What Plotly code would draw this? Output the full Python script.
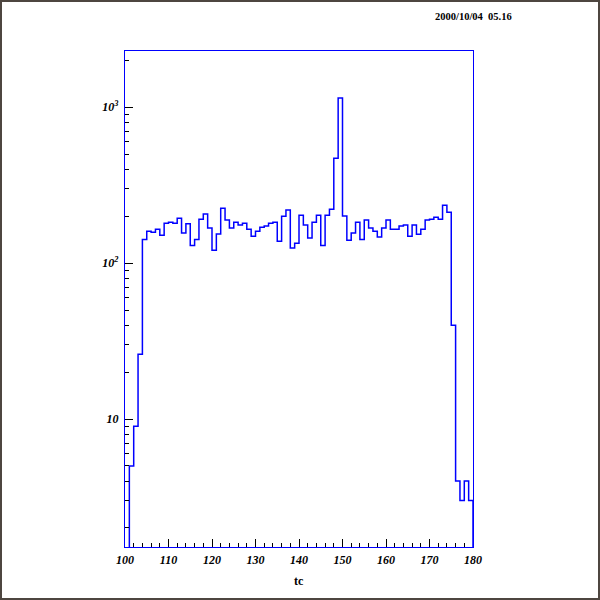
import plotly.graph_objects as go

# tc histogram, 1 unit bins from 100 to 180
bin_edges = list(range(100, 181))
counts = [1, 5, 9, 26, 142, 160, 158, 165, 151, 180,
          183, 180, 194, 156, 179, 130, 142, 191, 207, 168,
          121, 154, 225, 189, 168, 183, 176, 180, 165, 149,
          160, 170, 173, 180, 183, 138, 200, 219, 125, 134,
          203, 176, 145, 183, 203, 130, 203, 222, 471, 1148,
          201, 140, 156, 183, 142, 189, 168, 160, 147, 168,
          189, 165, 165, 173, 176, 149, 176, 153, 165, 189,
          191, 197, 191, 235, 212, 40, 4, 3, 4, 3]
y_major = [10, 100, 1000]
y_major_text = ["10", "10<sup>2</sup>", "10<sup>3</sup>"]
y_minor = [m * d for d in (1, 10, 100, 1000) for m in range(2, 10)]
date_text = "2000/10/04  05.16"

W, H = 600, 600
ml, mr, mt, mb = 125, 127, 51, 53
pw, ph = W - ml - mr, H - mt - mb

tick_font = dict(family="Liberation Serif", size=12, color="black", weight="bold", style="italic")

fig = go.Figure()
fig.add_trace(go.Scatter(x=bin_edges, y=counts + [1], mode="lines", line_shape="hv",
                         line=dict(color="#0000ff", width=1.5), hoverinfo="skip"))

fig.update_xaxes(range=[100, 180], dtick=10, tick0=100, ticks="inside", ticklen=8, tickcolor="black",
                 minor=dict(dtick=2, ticks="inside", ticklen=4, tickcolor="black"),
                 showline=True, linecolor="#0000ff", linewidth=1.3, mirror=True,
                 showgrid=False, zeroline=False, tickfont=tick_font, ticklabelstandoff=1)
fig.update_yaxes(type="log", range=[0.179, 3.361], tickvals=y_major, ticktext=y_major_text,
                 ticks="inside", ticklen=8, tickcolor="black",
                 minor=dict(tickvals=y_minor, ticks="inside", ticklen=4, tickcolor="black"),
                 showline=True, linecolor="#0000ff", linewidth=1.3, mirror=True,
                 showgrid=False, zeroline=False, tickfont=tick_font, ticklabelstandoff=3)

fig.add_annotation(text="<b>tc</b>", xref="paper", yref="paper", x=(299 - ml) / pw,
                   y=-(581 - (H - mb)) / ph, showarrow=False, xanchor="center", yanchor="middle",
                   font=dict(family="Liberation Serif", size=12, color="black"))
fig.add_annotation(text="<b>" + date_text + "</b>", xref="paper", yref="paper", x=(473 - ml) / pw,
                   y=1 + (mt - 17) / ph, showarrow=False, xanchor="center", yanchor="middle",
                   font=dict(family="Liberation Serif", size=10.5, color="black"))

# window border
fig.add_shape(type="rect", xref="paper", yref="paper",
              x0=-(ml - 1) / pw, x1=1 + (mr - 1) / pw, y0=-(mb - 1) / ph, y1=1 + (mt - 1) / ph,
              line=dict(color="#4e4640", width=2))

fig.update_layout(width=W, height=H, margin=dict(l=ml, r=mr, t=mt, b=mb),
                  paper_bgcolor="white", plot_bgcolor="white", showlegend=False)
fig.write_html("out.html", config={"displayModeBar": False},
               post_script="document.body.style.margin='0';")
